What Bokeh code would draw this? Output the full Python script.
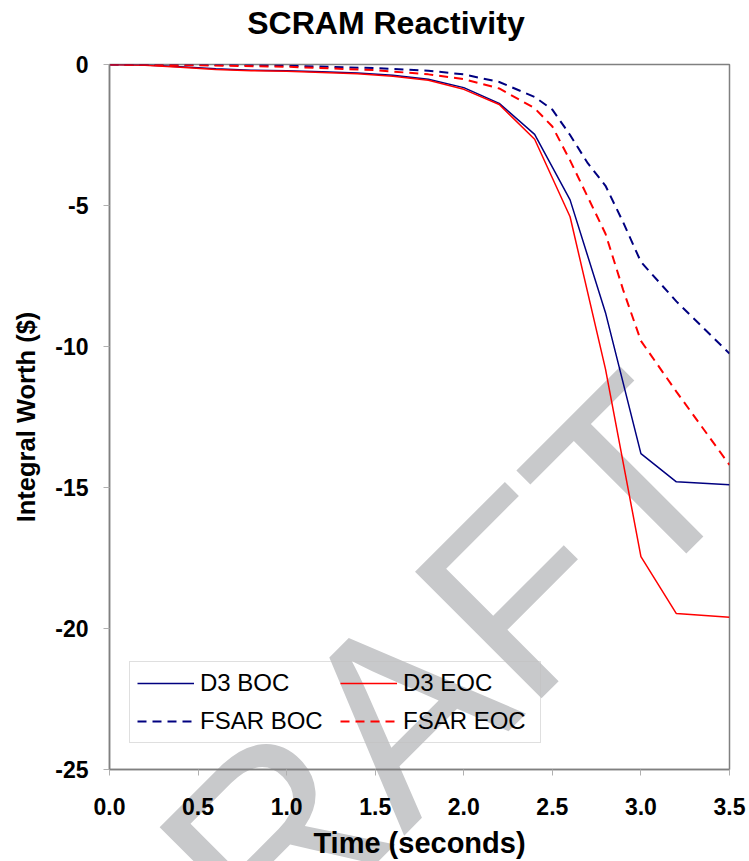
import math
from bokeh.plotting import figure
from bokeh.layouts import column
from bokeh.models import Label, Legend, LegendItem, FixedTicker, PrintfTickFormatter, Range1d
from bokeh.embed import file_html
from bokeh.resources import INLINE

title_text = "SCRAM Reactivity"
x_label = "Time (seconds)"
y_label = "Integral Worth ($)"
watermark_text = "DRAFT"

d3_time = [0.0, 0.2, 0.4, 0.6, 0.8, 1.0, 1.2, 1.4, 1.6, 1.8, 2.0, 2.2, 2.4, 2.6, 2.8, 3.0, 3.2, 3.5]
d3_boc = [0.0, -0.02, -0.08, -0.15, -0.2, -0.22, -0.26, -0.3, -0.38, -0.52, -0.82, -1.38, -2.48, -4.8, -8.8, -13.8, -14.8, -14.9]
d3_eoc = [0.0, -0.03, -0.1, -0.18, -0.22, -0.24, -0.28, -0.33, -0.42, -0.56, -0.88, -1.42, -2.65, -5.4, -10.8, -17.45, -19.47, -19.6]

fsar_time = [0.0, 0.5, 1.0, 1.5, 1.8, 2.0, 2.2, 2.4, 2.5, 2.6, 2.7, 2.8, 2.9, 3.0, 3.2, 3.5]
fsar_boc = [0.0, -0.01, -0.04, -0.13, -0.22, -0.35, -0.62, -1.15, -1.6, -2.5, -3.5, -4.3, -5.6, -7.0, -8.4, -10.25]
fsar_eoc = [0.0, -0.03, -0.08, -0.2, -0.35, -0.52, -0.85, -1.55, -2.2, -3.4, -4.7, -6.0, -8.0, -9.8, -11.6, -14.2]

x_ticks = [0.0, 0.5, 1.0, 1.5, 2.0, 2.5, 3.0, 3.5]
y_ticks = [0, -5, -10, -15, -20, -25]

FONT = "Liberation Sans"
NAVY = "#000080"
RED = "#FF0000"
W, H = 749, 861

# Background page layer: chart title and the DRAFT watermark (which spans the whole page)
bg = figure(width=W, height=H, x_range=Range1d(0, W), y_range=Range1d(H, 0),
            output_backend="svg", toolbar_location=None,
            x_axis_type=None, y_axis_type=None, min_border=0)
bg.grid.visible = False
bg.outline_line_color = None
bg.background_fill_color = "white"
bg.border_fill_color = "white"
wm = Label(x=328, y=731, text=watermark_text, angle=math.pi / 4,
           text_align="center", text_baseline="alphabetic",
           text_font=FONT, text_font_size="260px", text_color="#C8C9CB")
bg.add_layout(wm)
ttl = Label(x=334, y=22, text=title_text, text_align="center", text_baseline="alphabetic",
            text_font=FONT, text_font_size="32px", text_font_style="bold", text_color="#000000")
bg.add_layout(ttl)

p = figure(width=W, height=H, x_range=Range1d(0, 3.5), y_range=Range1d(-25, 0),
           output_backend="svg", toolbar_location=None,
           min_border_left=109, min_border_right=20, min_border_top=64, min_border_bottom=92)
p.margin = (-H, 0, 0, 0)
p.background_fill_color = None
p.border_fill_color = None
p.title.visible = False

p.xgrid.visible = False
p.ygrid.visible = False
p.outline_line_color = "#808080"
p.outline_line_width = 1.5

for ax in (p.xaxis[0], p.yaxis[0]):
    ax.axis_line_color = "#808080"
    ax.axis_line_width = 1.5
    ax.major_tick_line_color = "#B0B0B0"
    ax.major_tick_out = 6
    ax.major_tick_in = 0
    ax.minor_tick_line_color = None
    ax.major_label_text_font = FONT
    ax.major_label_text_font_size = "23px"
    ax.major_label_text_font_style = "bold"
    ax.major_label_text_color = "#000000"
    ax.axis_label_text_font = FONT
    ax.axis_label_text_font_style = "bold"
    ax.axis_label_text_color = "#000000"

p.xaxis.ticker = FixedTicker(ticks=x_ticks)
p.xaxis.formatter = PrintfTickFormatter(format="%.1f")
p.yaxis.ticker = FixedTicker(ticks=y_ticks)
p.yaxis.formatter = PrintfTickFormatter(format="%d")
p.xaxis.axis_label = x_label
p.yaxis.axis_label = y_label
p.xaxis.axis_label_text_font_size = "29px"
p.yaxis.axis_label_text_font_size = "25.5px"
p.xaxis.major_label_standoff = 22
p.yaxis.major_label_standoff = 15
p.xaxis.axis_label_standoff = 9
p.yaxis.axis_label_standoff = 12

r1 = p.line(d3_time, d3_boc, line_color=NAVY, line_width=1.5)
r2 = p.line(d3_time, d3_eoc, line_color=RED, line_width=1.5)
r3 = p.line(fsar_time, fsar_boc, line_color=NAVY, line_width=2, line_dash="9 6")
r4 = p.line(fsar_time, fsar_eoc, line_color=RED, line_width=2, line_dash="9 6")

legend = Legend(items=[LegendItem(label="D3 BOC", renderers=[r1]),
                       LegendItem(label="D3 EOC", renderers=[r2]),
                       LegendItem(label="FSAR BOC", renderers=[r3]),
                       LegendItem(label="FSAR EOC", renderers=[r4])],
                orientation="horizontal", ncols=2, location=(20, 26))
legend.label_text_font = FONT
legend.label_text_font_size = "24px"
legend.label_text_color = "#000000"
legend.glyph_width = 57
legend.glyph_height = 28
legend.label_height = 28
legend.label_width = 130
legend.label_standoff = 6
legend.spacing = 10
legend.padding = 7
legend.margin = 0
legend.border_line_color = "#C0C0C0"
legend.border_line_width = 1
legend.background_fill_alpha = 0
p.add_layout(legend)

layout = column(bg, p, spacing=0)
open("out.html", "w").write(file_html(layout, INLINE))
